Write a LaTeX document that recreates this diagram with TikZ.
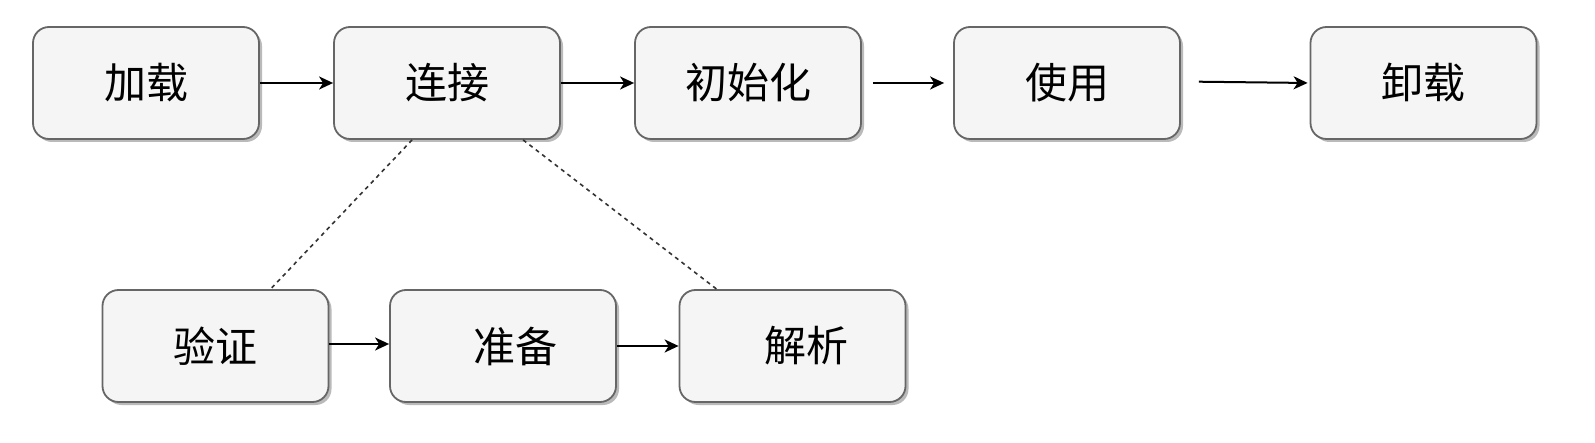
\documentclass[tikz,border=0pt]{standalone}
\usepackage{fontspec}
\newfontfamily\cjk{Noto Sans CJK SC}
\usetikzlibrary{arrows.meta,shadows}
\definecolor{boxfill}{HTML}{F5F5F5}
\definecolor{boxline}{HTML}{666666}
\tikzset{
  stagebox/.style={draw=boxline, fill=boxfill, line width=1.8pt, rounded corners=16pt,
    minimum width=226pt, minimum height=112pt, inner sep=0pt,
    font=\cjk\fontsize{42}{50}\selectfont,
    drop shadow={shadow xshift=3pt, shadow yshift=-3pt, fill=black!45, opacity=0.6}},
  flow/.style={draw=black, line width=2pt, -{Stealth[length=14pt,width=13pt,inset=4pt]}},
  dashlink/.style={draw=black!80, line width=1.6pt, dash pattern=on 4pt off 4pt}
}
\begin{document}
\begin{tikzpicture}[x=1pt,y=-1pt]
\useasboundingbox (0,0) rectangle (1595,443);
\node[stagebox] (jiazai)   at (146,83)    {加载};
\node[stagebox] (lianjie)  at (447,83)    {连接};
\node[stagebox] (chushi)   at (748,83)    {初始化};
\node[stagebox] (shiyong)  at (1067,83)   {使用};
\node[stagebox] (xiezai)   at (1423.5,83) {卸载};
\node[stagebox] (yanzheng) at (215.5,346) {验证};
\node[stagebox] (zhunbei)  at (503,346)   {\hspace*{24pt}准备};
\node[stagebox] (jiexi)    at (792.5,346) {\hspace*{28pt}解析};

\draw[flow] (jiazai.east) -- (lianjie.west);
\draw[flow] (lianjie.east) -- (chushi.west);
\draw[flow, shorten <=11pt, shorten >=9pt] (chushi.east) -- (shiyong.west);
\draw[flow, shorten <=18pt, shorten >=2pt] ([yshift=1.5pt]shiyong.east) -- ([yshift=0pt]xiezai.west);
\draw[flow] ([yshift=2pt]yanzheng.east) -- ([yshift=2pt]zhunbei.west);
\draw[flow] (zhunbei.east) -- (jiexi.west);

\draw[dashlink] ([xshift=79pt]lianjie.south west) -- ([xshift=169pt]yanzheng.north west);
\draw[dashlink] ([xshift=190pt]lianjie.south west) -- ([xshift=38pt]jiexi.north west);
\end{tikzpicture}
\end{document}
